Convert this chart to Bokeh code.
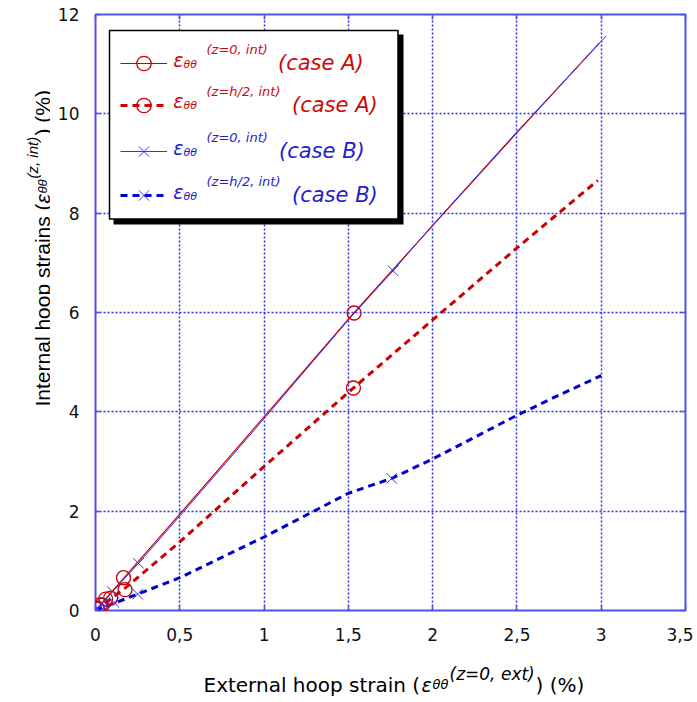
import math
from bokeh.plotting import figure
from bokeh.layouts import row, column
from bokeh.models import (Range1d, FixedTicker, LinearAxis, Label, Legend,
                          LegendItem, BoxAnnotation)
from bokeh.embed import file_html
from bokeh.resources import INLINE

# ---------------- data ----------------
x_ticks = [0, 0.5, 1, 1.5, 2, 2.5, 3, 3.5]
x_tick_labels = ["0", "0,5", "1", "1,5", "2", "2,5", "3", "3,5"]
y_ticks = [0, 2, 4, 6, 8, 10, 12]
y_tick_labels = ["0", "2", "4", "6", "8", "10", "12"]

# case A, z=0 (internal)
a0_line_x = [0, 0.17, 0.5, 1.0, 1.53, 2.0, 2.5, 2.99]
a0_line_y = [0, 0.66, 1.94, 3.9, 5.98, 7.75, 9.62, 11.43]
a0_mark_x = [0.01, 0.03, 0.06, 0.166, 1.534]
a0_mark_y = [0.04, 0.12, 0.23, 0.66, 5.99]
# case A, z=h/2
ah_line_x = [0, 0.175, 0.5, 1.0, 1.53, 2.0, 2.5, 2.98]
ah_line_y = [0, 0.45, 1.38, 2.9, 4.48, 5.85, 7.3, 8.66]
ah_mark_x = [0.01, 0.04, 0.09, 0.175, 1.53]
ah_mark_y = [0.03, 0.11, 0.25, 0.42, 4.48]
# case B, z=0
b0_line_x = [0, 0.255, 0.5, 1.0, 1.5, 1.765, 2.0, 2.5, 3.03]
b0_line_y = [0, 0.95, 1.9, 3.86, 5.85, 6.84, 7.76, 9.64, 11.57]
b0_mark_x = [0.01, 0.04, 0.1, 0.255, 1.765]
b0_mark_y = [0.04, 0.15, 0.38, 0.95, 6.84]
# case B, z=h/2
bh_line_x = [0, 0.25, 0.5, 1.0, 1.5, 1.757, 2.0, 2.5, 2.72, 3.0]
bh_line_y = [0, 0.33, 0.66, 1.48, 2.36, 2.66, 3.05, 3.93, 4.29, 4.73]
bh_mark_x = [0.01, 0.05, 0.11, 0.25, 1.757]
bh_mark_y = [0.02, 0.07, 0.16, 0.33, 2.66]

legend_sup = ["(z=0, int)", "(z=h/2, int)", "(z=0, int)", "(z=h/2, int)"]
legend_case = ["(case A)", "(case A)", "(case B)", "(case B)"]

# ---------------- styles ----------------
RED = "#cc0000"
BLUE = "#0000cc"
BLUE_THIN = "#3535ee"
FRAME = "#5252ea"
GRID = "#2f2fe0"
TXT_RED = "#cc0a0a"
TXT_BLUE = "#1e1ecc"

p = figure(width=643, height=650, x_range=Range1d(0, 3.5), y_range=Range1d(0, 12),
           output_backend="svg", toolbar_location=None,
           min_border_left=45, min_border_right=8, min_border_top=14, min_border_bottom=40)
p.background_fill_color = "white"
p.border_fill_color = "white"
p.outline_line_color = FRAME
p.outline_line_width = 2

p.xaxis.ticker = FixedTicker(ticks=x_ticks)
p.xaxis.major_label_overrides = dict(zip(x_ticks, x_tick_labels))
p.yaxis.ticker = FixedTicker(ticks=y_ticks)
p.yaxis.major_label_overrides = dict(zip(y_ticks, y_tick_labels))
for ax in (p.xaxis, p.yaxis):
    ax.axis_line_color = None
    ax.major_tick_in = 5
    ax.major_tick_out = 0
    ax.major_tick_line_color = FRAME
    ax.major_tick_line_width = 1.5
    ax.minor_tick_line_color = None
    ax.major_label_text_font = "DejaVu Sans"
    ax.major_label_text_font_size = "17px"
    ax.major_label_text_color = "#111111"
p.xaxis.major_label_standoff = 17
p.yaxis.major_label_standoff = 16

for side, ticks in (("right", y_ticks), ("above", x_ticks)):
    ax = LinearAxis(ticker=FixedTicker(ticks=ticks), major_label_text_font_size="0px",
                    major_label_overrides={t: "" for t in ticks},
                    axis_line_color=None, major_tick_in=5, major_tick_out=0,
                    major_label_standoff=0, minor_tick_line_color=None,
                    major_tick_line_color=FRAME, major_tick_line_width=1.5)
    p.add_layout(ax, side)

p.grid.grid_line_color = GRID
p.grid.grid_line_dash = "2 2"
p.grid.grid_line_width = 1.5

# ---------------- series ----------------
l_a0 = p.line(a0_line_x, a0_line_y, line_color=RED, line_width=1.2)
l_ah = p.line(ah_line_x, ah_line_y, line_color=RED, line_width=3, line_dash="7 5")
l_bh = p.line(bh_line_x, bh_line_y, line_color=BLUE, line_width=3, line_dash="7 5")
l_b0 = p.line(b0_line_x, b0_line_y, line_color=BLUE_THIN, line_width=1)
m_a0 = p.scatter(a0_mark_x, a0_mark_y, marker="circle", size=14, fill_color=None,
                 line_color=RED, line_width=1.3)
m_ah = p.scatter(ah_mark_x, ah_mark_y, marker="circle", size=14, fill_color=None,
                 line_color=RED, line_width=1.3)
m_b0 = p.scatter(b0_mark_x, b0_mark_y, marker="x", size=15, line_color=BLUE_THIN, line_width=1)
m_bh = p.scatter(bh_mark_x, bh_mark_y, marker="x", size=15, line_color=BLUE_THIN, line_width=1)

# ---------------- legend box ----------------
p.add_layout(BoxAnnotation(left=18, right=308, top=576, bottom=386,
                           left_units="screen", right_units="screen",
                           top_units="screen", bottom_units="screen",
                           fill_color="black", fill_alpha=1, line_color=None))
p.add_layout(BoxAnnotation(left=14, right=302.5, top=580, bottom=391.5,
                           left_units="screen", right_units="screen",
                           top_units="screen", bottom_units="screen",
                           fill_color="white", fill_alpha=1, line_color="black",
                           line_width=1.5, line_alpha=1))

row_renderers = [[l_a0, m_a0], [l_ah, m_ah], [l_b0, m_b0], [l_bh, m_bh]]
row_center = [547.0, 505.3, 459.0, 414.6]     # legend row centres (frame px, upward)
row_color = [TXT_RED, TXT_RED, TXT_BLUE, TXT_BLUE]
row_case_standoff = [111, 125, 112, 125]

GH = 36      # glyph box height (marker size = 0.4 * GH)
for i in range(4):
    c = row_color[i]
    lg = Legend(items=[LegendItem(label=legend_case[i], renderers=row_renderers[i])],
                location=(25, row_center[i] - GH / 2),
                glyph_width=47, glyph_height=GH, label_height=GH,
                label_standoff=row_case_standoff[i], padding=0, margin=0, spacing=0,
                border_line_color=None, background_fill_alpha=0,
                label_text_font="DejaVu Sans", label_text_font_size="21px",
                label_text_font_style="italic", label_text_color=c)
    p.add_layout(lg)
    b = row_center[i] - 7          # baseline of the legend label text
    p.add_layout(Label(x=77.7, y=b, x_units="screen", y_units="screen", text="ε",
                       text_font="DejaVu Sans", text_font_size="19px",
                       text_font_style="italic", text_color=c))
    p.add_layout(Label(x=88, y=b, x_units="screen", y_units="screen", text="θθ",
                       text_font="DejaVu Sans", text_font_size="11px",
                       text_font_style="italic", text_color=c))
    p.add_layout(Label(x=111, y=b + 13.5, x_units="screen", y_units="screen",
                       text=legend_sup[i], text_font="DejaVu Sans", text_font_size="13px",
                       text_font_style="italic", text_color=c))

# ---------------- axis titles (separate text panels) ----------------
def text_panel(w, h):
    f = figure(width=w, height=h, x_range=Range1d(0, 1), y_range=Range1d(0, 1),
               output_backend="svg", toolbar_location=None, min_border=0,
               x_axis_location=None, y_axis_location=None)
    f.grid.visible = False
    f.outline_line_color = None
    f.background_fill_color = "white"
    f.border_fill_color = "white"
    return f

def piece(fig, txt, x, y, size, italic=False, angle=0.0, font="DejaVu Sans"):
    fig.add_layout(Label(x=x, y=y, x_units="screen", y_units="screen", text=txt,
                         text_font=font, text_font_size=size, angle=angle,
                         text_font_style="italic" if italic else "normal",
                         text_color="black", text_baseline="alphabetic",
                         text_align="left"))

xt = text_panel(643, 46)
yt = text_panel(50, 696)

# x title (frame of this panel is aligned with the main frame, starting at page x 95)
xb = 12
piece(xt, "External hoop strain (", 108, xb, "20px")
piece(xt, "ε", 326, xb, "19px", italic=True)
piece(xt, "θθ", 337, xb, "13px", italic=True)
piece(xt, "(z=0, ext)", 354, xb + 11, "17px", italic=True)
piece(xt, ") (%)", 440, xb, "20px")

# y title (rotated)
yb = 42
A = math.pi / 2
piece(yt, "Internal hoop strains (", yb, 290, "21px", angle=A, font="Liberation Sans")
piece(yt, "ε", yb, 493, "21px", italic=True, angle=A, font="Liberation Sans")
piece(yt, "θθ", yb, 503, "13px", italic=True, angle=A, font="Liberation Sans")
piece(yt, "(z, int)", yb - 10, 518, "15px", italic=True, angle=A, font="Liberation Sans")
piece(yt, ") (%)", yb, 561, "21px", angle=A, font="Liberation Sans")

layout = row(yt, column(p, xt))
open("out.html", "w").write(file_html(layout, INLINE))
